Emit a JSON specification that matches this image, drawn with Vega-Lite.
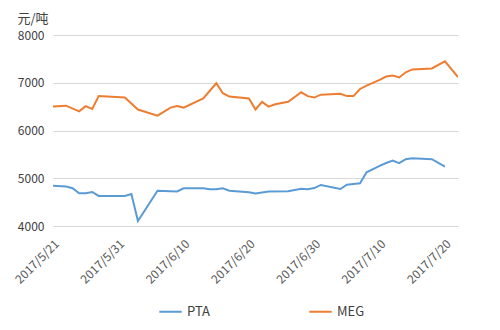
{
  "$schema": "https://vega.github.io/schema/vega-lite/v6.json",
  "autosize": "none",
  "width": 405,
  "height": 191,
  "padding": {"left": 53, "top": 35, "right": 42, "bottom": 104},
  "background": "white",
  "config": {
    "font": "Noto Sans CJK SC",
    "view": {"stroke": null}
  },
  "data": {
    "values": [
      {"date": "2017/5/21", "series": "PTA", "value": 4845},
      {"date": "2017/5/23", "series": "PTA", "value": 4825},
      {"date": "2017/5/24", "series": "PTA", "value": 4790},
      {"date": "2017/5/25", "series": "PTA", "value": 4685},
      {"date": "2017/5/26", "series": "PTA", "value": 4685},
      {"date": "2017/5/27", "series": "PTA", "value": 4713},
      {"date": "2017/5/28", "series": "PTA", "value": 4630},
      {"date": "2017/6/1", "series": "PTA", "value": 4630},
      {"date": "2017/6/2", "series": "PTA", "value": 4670},
      {"date": "2017/6/3", "series": "PTA", "value": 4105},
      {"date": "2017/6/6", "series": "PTA", "value": 4740},
      {"date": "2017/6/8", "series": "PTA", "value": 4730},
      {"date": "2017/6/9", "series": "PTA", "value": 4725},
      {"date": "2017/6/10", "series": "PTA", "value": 4790},
      {"date": "2017/6/13", "series": "PTA", "value": 4790},
      {"date": "2017/6/14", "series": "PTA", "value": 4770},
      {"date": "2017/6/15", "series": "PTA", "value": 4770},
      {"date": "2017/6/16", "series": "PTA", "value": 4790},
      {"date": "2017/6/17", "series": "PTA", "value": 4740},
      {"date": "2017/6/20", "series": "PTA", "value": 4705},
      {"date": "2017/6/21", "series": "PTA", "value": 4680},
      {"date": "2017/6/23", "series": "PTA", "value": 4720},
      {"date": "2017/6/26", "series": "PTA", "value": 4730},
      {"date": "2017/6/28", "series": "PTA", "value": 4780},
      {"date": "2017/6/29", "series": "PTA", "value": 4770},
      {"date": "2017/6/30", "series": "PTA", "value": 4795},
      {"date": "2017/7/1", "series": "PTA", "value": 4860},
      {"date": "2017/7/4", "series": "PTA", "value": 4775},
      {"date": "2017/7/5", "series": "PTA", "value": 4865},
      {"date": "2017/7/6", "series": "PTA", "value": 4880},
      {"date": "2017/7/7", "series": "PTA", "value": 4895},
      {"date": "2017/7/8", "series": "PTA", "value": 5125},
      {"date": "2017/7/10", "series": "PTA", "value": 5260},
      {"date": "2017/7/11", "series": "PTA", "value": 5320},
      {"date": "2017/7/12", "series": "PTA", "value": 5370},
      {"date": "2017/7/13", "series": "PTA", "value": 5315},
      {"date": "2017/7/14", "series": "PTA", "value": 5400},
      {"date": "2017/7/15", "series": "PTA", "value": 5420},
      {"date": "2017/7/18", "series": "PTA", "value": 5400},
      {"date": "2017/7/20", "series": "PTA", "value": 5245},
      {"date": "2017/5/21", "series": "MEG", "value": 6500},
      {"date": "2017/5/23", "series": "MEG", "value": 6520},
      {"date": "2017/5/25", "series": "MEG", "value": 6400},
      {"date": "2017/5/26", "series": "MEG", "value": 6510},
      {"date": "2017/5/27", "series": "MEG", "value": 6450},
      {"date": "2017/5/28", "series": "MEG", "value": 6720},
      {"date": "2017/6/1", "series": "MEG", "value": 6690},
      {"date": "2017/6/3", "series": "MEG", "value": 6440},
      {"date": "2017/6/6", "series": "MEG", "value": 6310},
      {"date": "2017/6/8", "series": "MEG", "value": 6480},
      {"date": "2017/6/9", "series": "MEG", "value": 6510},
      {"date": "2017/6/10", "series": "MEG", "value": 6480},
      {"date": "2017/6/13", "series": "MEG", "value": 6670},
      {"date": "2017/6/15", "series": "MEG", "value": 6990},
      {"date": "2017/6/16", "series": "MEG", "value": 6780},
      {"date": "2017/6/17", "series": "MEG", "value": 6710},
      {"date": "2017/6/20", "series": "MEG", "value": 6670},
      {"date": "2017/6/21", "series": "MEG", "value": 6440},
      {"date": "2017/6/22", "series": "MEG", "value": 6600},
      {"date": "2017/6/23", "series": "MEG", "value": 6500},
      {"date": "2017/6/24", "series": "MEG", "value": 6550},
      {"date": "2017/6/26", "series": "MEG", "value": 6600},
      {"date": "2017/6/28", "series": "MEG", "value": 6800},
      {"date": "2017/6/29", "series": "MEG", "value": 6720},
      {"date": "2017/6/30", "series": "MEG", "value": 6690},
      {"date": "2017/7/1", "series": "MEG", "value": 6750},
      {"date": "2017/7/4", "series": "MEG", "value": 6770},
      {"date": "2017/7/5", "series": "MEG", "value": 6720},
      {"date": "2017/7/6", "series": "MEG", "value": 6720},
      {"date": "2017/7/7", "series": "MEG", "value": 6870},
      {"date": "2017/7/8", "series": "MEG", "value": 6940},
      {"date": "2017/7/10", "series": "MEG", "value": 7060},
      {"date": "2017/7/11", "series": "MEG", "value": 7130},
      {"date": "2017/7/12", "series": "MEG", "value": 7150},
      {"date": "2017/7/13", "series": "MEG", "value": 7110},
      {"date": "2017/7/14", "series": "MEG", "value": 7220},
      {"date": "2017/7/15", "series": "MEG", "value": 7280},
      {"date": "2017/7/18", "series": "MEG", "value": 7300},
      {"date": "2017/7/20", "series": "MEG", "value": 7450},
      {"date": "2017/7/22", "series": "MEG", "value": 7120}
    ]
  },
  "mark": {"type": "line", "strokeWidth": 2, "clip": true},
  "encoding": {
    "x": {
      "field": "date",
      "type": "temporal",
      "scale": {"domain": [{"year": 2017, "month": 5, "date": 21}, {"year": 2017, "month": 7, "date": 22}]},
      "axis": {
        "title": null,
        "values": [
          {"year": 2017, "month": 5, "date": 21},
          {"year": 2017, "month": 5, "date": 31},
          {"year": 2017, "month": 6, "date": 10},
          {"year": 2017, "month": 6, "date": 20},
          {"year": 2017, "month": 6, "date": 30},
          {"year": 2017, "month": 7, "date": 10},
          {"year": 2017, "month": 7, "date": 20}
        ],
        "format": "%Y/%-m/%-d",
        "labelAngle": -45,
        "labelFontSize": 12,
        "labelColor": "#595959",
        "labelPadding": 12,
        "grid": false,
        "domain": false,
        "ticks": false,
        "labelFlush": false,
        "labelOverlap": false
      }
    },
    "y": {
      "field": "value",
      "type": "quantitative",
      "scale": {"domain": [4000, 8000]},
      "axis": {
        "title": "元/吨",
        "titleAngle": 0,
        "titleAlign": "left",
        "titleBaseline": "middle",
        "titleX": -36,
        "titleY": -17,
        "titleFontSize": 13,
        "titleFontWeight": "normal",
        "titleColor": "#404040",
        "values": [4000, 5000, 6000, 7000, 8000],
        "format": "d",
        "labelFontSize": 12,
        "labelColor": "#404040",
        "labelPadding": 9,
        "grid": true,
        "gridColor": "#D9D9D9",
        "domain": false,
        "ticks": false
      }
    },
    "color": {
      "field": "series",
      "type": "nominal",
      "scale": {"domain": ["PTA", "MEG"], "range": ["#5B9BD5", "#ED7D31"]},
      "legend": {
        "title": null,
        "orient": "none",
        "direction": "horizontal",
        "legendX": 105,
        "legendY": 264,
        "symbolType": "stroke",
        "symbolSize": 500,
        "symbolStrokeWidth": 2,
        "labelFontSize": 13,
        "labelColor": "#404040",
        "columnPadding": 95
      }
    }
  }
}
